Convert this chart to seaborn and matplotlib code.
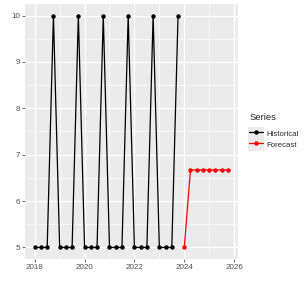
import numpy as np
import pandas as pd
import seaborn as sns
import matplotlib
matplotlib.use("Agg")
from matplotlib import pyplot as plt
from matplotlib.ticker import MultipleLocator
from matplotlib.legend_handler import HandlerLine2D
from matplotlib.patches import Rectangle

# quarterly historical values, 2018 Q1 .. 2023 Q4
hist_time = [2018 + i * 0.25 for i in range(24)]
hist_vals = [5, 5, 5, 10] * 6
# forecast, 2024 Q1 .. 2025 Q4
fc_time = [2024 + i * 0.25 for i in range(8)]
fc_vals = [5, 6.67, 6.67, 6.67, 6.67, 6.67, 6.67, 6.67]

df = pd.DataFrame({
    "time": hist_time + fc_time,
    "value": hist_vals + fc_vals,
    "Series": ["Historical"] * len(hist_time) + ["Forecast"] * len(fc_time),
})


class KeyHandler(HandlerLine2D):
    # ggplot-like key: grey square behind the line+point
    def create_artists(self, legend, orig_handle, xdescent, ydescent,
                       width, height, fontsize, trans):
        bg = Rectangle((-xdescent - 1, -ydescent - 1), width + 2, height + 2,
                       facecolor="#EBEBEB", edgecolor="none", transform=trans)
        arts = super().create_artists(legend, orig_handle, xdescent, ydescent,
                                      width, height, fontsize, trans)
        return [bg] + list(arts)


sns.set_theme(style="darkgrid", rc={
    "axes.facecolor": "#EBEBEB",
    "grid.color": "white",
    "axes.edgecolor": "#EBEBEB",
})
plt.rcParams["font.family"] = ["Liberation Sans", "DejaVu Sans"]

fig = plt.figure(figsize=(3.05, 2.84), dpi=100)
ax = fig.add_axes([0.082, 0.088, 0.697, 0.898])

sns.lineplot(data=df, x="time", y="value", hue="Series",
             palette={"Historical": "black", "Forecast": "red"},
             marker="o", markersize=3.2, markeredgewidth=0, linewidth=0.9,
             ax=ax)

ax.set_xlim(2017.61, 2026.14)
ax.set_ylim(4.75, 10.25)
ax.xaxis.set_major_locator(MultipleLocator(2))
ax.xaxis.set_minor_locator(MultipleLocator(1))
ax.yaxis.set_major_locator(MultipleLocator(1))
ax.yaxis.set_minor_locator(MultipleLocator(0.5))
ax.grid(which="major", color="white", linewidth=0.9)
ax.grid(which="minor", color="white", linewidth=0.45)
ax.set_xlabel("")
ax.set_ylabel("")
ax.tick_params(axis="both", which="major", labelsize=5.8, labelcolor="#4D4D4D",
               length=2, width=0.5, color="#333333", pad=1.5, bottom=True, left=True)
ax.tick_params(which="minor", length=0)
for s in ax.spines.values():
    s.set_visible(False)

handles, labels = ax.get_legend_handles_labels()
leg = ax.legend(handles, labels, title="Series", loc="center left",
                bbox_to_anchor=(1.04, 0.50), frameon=False,
                fontsize=5.6, title_fontsize=6.8,
                handlelength=1.75, handleheight=1.75, handletextpad=0.45,
                borderaxespad=0, labelspacing=0,
                handler_map={type(handles[0]): KeyHandler()})
leg._legend_box.align = "left"
leg._legend_box.sep = 4

fig.savefig("out.png", dpi=100)
